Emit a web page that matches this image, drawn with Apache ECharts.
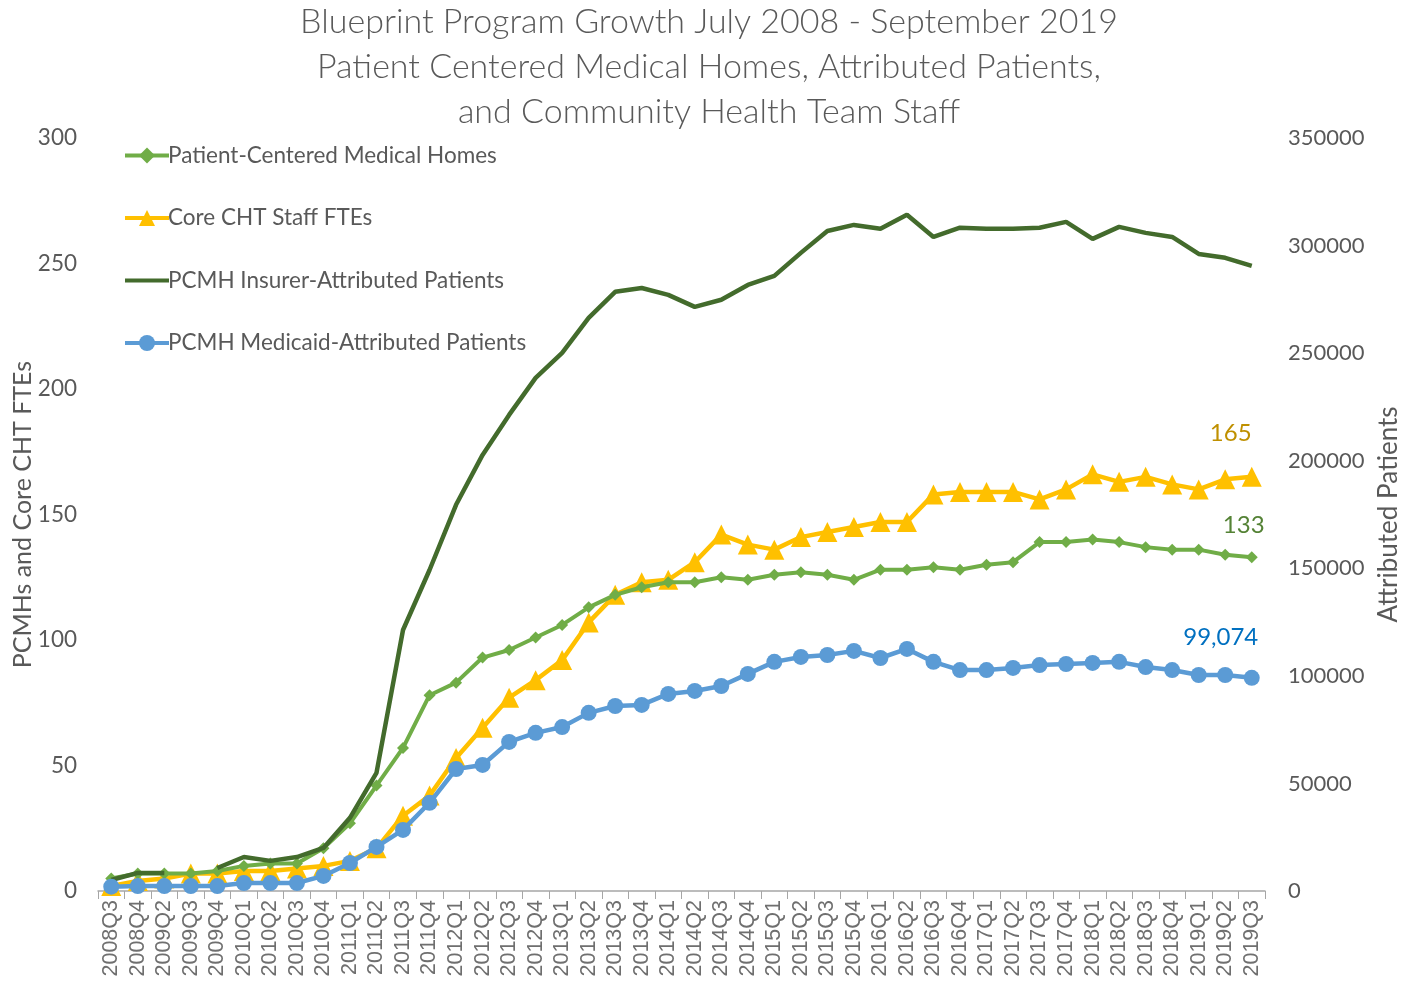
<!DOCTYPE html>
<head>
    <title>ECharts</title>
    <meta charset="UTF-8">
	<style>
	html, body { margin:0; padding:0; background:#fff; }
	</style>
</head>
<body>
	  <div id="main" style="width:1415px;height:992px;"></div>

    <script src="https://cdn.jsdelivr.net/npm/echarts@6/dist/echarts.min.js" charset="UTF-8"></script>
    <script type="text/javascript">
    // quarters (2009Q1 is not in the source chart)
    var quarters = ['2008Q3','2008Q4','2009Q2','2009Q3','2009Q4',
        '2010Q1','2010Q2','2010Q3','2010Q4','2011Q1','2011Q2','2011Q3','2011Q4',
        '2012Q1','2012Q2','2012Q3','2012Q4','2013Q1','2013Q2','2013Q3','2013Q4',
        '2014Q1','2014Q2','2014Q3','2014Q4','2015Q1','2015Q2','2015Q3','2015Q4',
        '2016Q1','2016Q2','2016Q3','2016Q4','2017Q1','2017Q2','2017Q3','2017Q4',
        '2018Q1','2018Q2','2018Q3','2018Q4','2019Q1','2019Q2','2019Q3'];

    var pcmh = [5,7,7,7,8,10,11,11,17,27,42,57,78,83,93,96,101,106,113,118,121,123,
        123,125,124,126,127,126,124,128,128,129,128,130,131,139,139,140,139,137,136,136,134,133];

    var chtFte = [2,4,5,7,7,8,8,9,10,12,17,30,38,53,65,77,84,92,107,118,123,124,
        131,142,138,136,141,143,145,147,147,158,159,159,159,156,160,166,163,165,162,160,164,165];

    var insurerPatients = [5100,8400,8400,null,10700,15800,14000,15800,20000,34000,54900,121300,
        149200,179500,202700,221300,238500,250100,266400,278500,280300,277100,271500,274800,
        281700,285900,296600,306800,309600,307800,314300,304000,308300,307800,307800,308300,
        311000,303100,308700,305900,304000,296100,294300,290590];

    var medicaidPatients = [2000,2300,2300,2300,2300,3700,3700,3700,7000,13000,20500,28400,
        41000,56700,58600,69300,73500,76200,82800,86000,86500,91600,93000,95300,100900,106500,
        108800,109700,111600,108300,112500,106500,102700,102700,103700,105000,105500,106000,
        106500,104100,102700,100400,100400,99074];

    var leftTicks = [0, 300, 50];
    var rightTicks = [0, 350000, 50000];

    var FONT = 'Lato';
    var GREY = '#595959';

    // put a label only on the last point
    function lastLabel(arr, text, color, offset) {
        return arr.map(function (v, i) {
            if (i !== arr.length - 1) return v;
            return {
                value: v,
                label: {
                    show: true, position: 'inside', formatter: text, offset: offset,
                    color: color, fontSize: 24, fontFamily: FONT
                }
            };
        });
    }

    var myChart = echarts.init(document.getElementById('main'));

    var option = {
        animation: false,
        backgroundColor: '#fff',
        textStyle: { fontFamily: FONT },
        title: {
            text: 'Blueprint Program Growth July 2008 - September 2019\nPatient Centered Medical Homes, Attributed Patients,\nand Community Health Team Staff',
            left: 704,
            top: -5,
            textAlign: 'center',
            textStyle: { fontSize: 34, fontWeight: 300, color: GREY, lineHeight: 45, fontFamily: FONT }
        },
        legend: {
            orient: 'vertical',
            left: 118,
            top: 139,
            itemGap: 39.5,
            itemWidth: 44,
            itemHeight: 20,
            lineStyle: { width: 4 },
            textStyle: { fontSize: 22.5, color: GREY, fontFamily: FONT, padding: [0, 0, 0, -6] },
            data: ['Patient-Centered Medical Homes', 'Core CHT Staff FTEs',
                { name: 'PCMH Insurer-Attributed Patients', itemStyle: { opacity: 0 } },
                'PCMH Medicaid-Attributed Patients']
        },
        grid: { left: 98, right: 150, top: 138, bottom: 101, containLabel: false, outerBoundsMode: 'none' },
        xAxis: {
            type: 'category',
            data: quarters,
            boundaryGap: true,
            axisLine: { lineStyle: { color: '#a6a6a6', width: 1.5 } },
            axisTick: { show: true, length: 8, lineStyle: { color: '#a6a6a6' } },
            axisLabel: {
                rotate: 90, interval: 0, fontSize: 21.5, color: '#6f6f6f', margin: 9,
                fontFamily: 'Liberation Sans'
            }
        },
        yAxis: [{
            type: 'value',
            min: leftTicks[0], max: leftTicks[1], interval: leftTicks[2],
            name: 'PCMHs and Core CHT FTEs',
            nameLocation: 'middle',
            nameGap: 63,
            nameMoveOverlap: false,
            nameTextStyle: { fontSize: 25, color: GREY, fontFamily: FONT },
            splitLine: { show: false },
            axisLine: { show: false },
            axisLabel: { fontSize: 22.5, color: GREY, margin: 21 }
        }, {
            type: 'value',
            min: rightTicks[0], max: rightTicks[1], interval: rightTicks[2],
            name: 'Attributed Patients',
            nameLocation: 'middle',
            nameGap: 110,
            nameRotate: 90,
            nameTextStyle: { fontSize: 26, color: GREY, fontFamily: FONT },
            splitLine: { show: false },
            axisLine: { show: false },
            axisLabel: { fontSize: 22, color: GREY, margin: 23, formatter: function (v) { return String(v); } }
        }],
        series: [{
            name: 'Patient-Centered Medical Homes',
            type: 'line',
            yAxisIndex: 0,
            data: lastLabel(pcmh, '133', '#548235', [-8, -32]),
            symbol: 'diamond', symbolSize: 12,
            itemStyle: { color: '#70ad47' },
            lineStyle: { width: 4, color: '#70ad47' },
            z: 3
        }, {
            name: 'Core CHT Staff FTEs',
            type: 'line',
            yAxisIndex: 0,
            data: lastLabel(chtFte, '165', '#bf9000', [-21, -44]),
            symbol: 'triangle', symbolSize: 20,
            itemStyle: { color: '#ffc000' },
            lineStyle: { width: 4.5, color: '#ffc000' },
            z: 2
        }, {
            name: 'PCMH Insurer-Attributed Patients',
            type: 'line',
            yAxisIndex: 1,
            data: lastLabel(insurerPatients, '290,590', '#375623', [-68, -61]),
            symbol: 'none',
            connectNulls: false,
            itemStyle: { color: '#436b2c' },
            lineStyle: { width: 4.5, color: '#436b2c' },
            z: 4
        }, {
            name: 'PCMH Medicaid-Attributed Patients',
            type: 'line',
            yAxisIndex: 1,
            data: lastLabel(medicaidPatients, '99,074', '#0070c0', [-31, -41]),
            symbol: 'circle', symbolSize: 16,
            itemStyle: { color: '#5b9bd5' },
            lineStyle: { width: 4.5, color: '#5b9bd5' },
            z: 5
        }]
    };

    myChart.setOption(option);
    </script>
</body>
